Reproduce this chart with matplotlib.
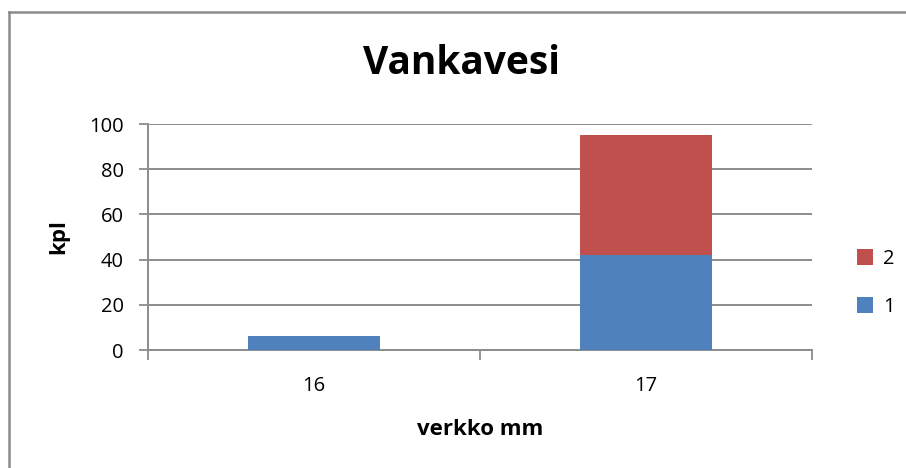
import matplotlib
matplotlib.use("Agg")
import matplotlib.pyplot as plt
from matplotlib.lines import Line2D
import numpy as np

# data
categories = ["16", "17"]
series_1 = [6, 42]
series_2 = [0, 53]
series_names = ["1", "2"]
blue = "#4f81bd"
red = "#c0504d"

plt.rcParams['font.family'] = ['Open Sans', 'DejaVu Sans']

W, H = 906, 468
fig = plt.figure(figsize=(W / 100, H / 100), dpi=100)

# axes box in pixel coords: left 148, right 812, top 124, bottom 350
ax = fig.add_axes([148 / W, 1 - 350 / H, (812 - 148) / W, (350 - 124) / H])

x = np.arange(len(categories))
ax.bar(x, series_1, width=0.4, color=blue, label=series_names[0], zorder=3)
ax.bar(x, series_2, width=0.4, bottom=series_1, color=red,
       label=series_names[1], zorder=3)

ax.set_xlim(-0.5, 1.5)
ax.set_ylim(0, 100)
ax.set_yticks(range(0, 101, 20))
ax.yaxis.grid(True, color="#8c8c8c", linewidth=1.4, zorder=0)

# category ticks sit between groups
ax.set_xticks([-0.5, 0.5, 1.5])
ax.set_xticklabels([])
ax.set_xticks(x, minor=True)
ax.set_xticklabels(categories, minor=True)
ax.tick_params(axis="x", which="minor", length=0, labelsize=14.5, pad=19)
ax.tick_params(axis="x", which="major", length=7, width=1.3, color="#8c8c8c",
               direction="out")
ax.tick_params(axis="y", length=6.5, width=1.3, color="#8c8c8c", labelsize=14.5,
               direction="out", pad=11)

for side in ["top", "right"]:
    ax.spines[side].set_visible(False)
for side in ["left", "bottom"]:
    ax.spines[side].set_color("#8c8c8c")
    ax.spines[side].set_linewidth(1.4)

ax.set_xlabel("verkko mm", fontsize=16, fontweight="bold", labelpad=16)
ax.set_ylabel("kpl", fontsize=16, fontweight="bold", labelpad=14)
fig.text(461 / W, 1 - 64 / H, "Vankavesi", fontsize=28, fontweight="bold",
         ha="center", va="center")

handles, labels = ax.get_legend_handles_labels()
ax.legend(handles[::-1], labels[::-1], loc="center left",
          bbox_to_anchor=(839 / W, 1 - 283 / H), bbox_transform=fig.transFigure,
          frameon=False, fontsize=14.5, handlelength=0.8, handleheight=0.8,
          handletextpad=0.5, labelspacing=1.4)

# grey chart-area border (left and top edges visible)
fig.add_artist(Line2D([8.5 / W, 8.5 / W], [0, 1 - 11.5 / H],
                      transform=fig.transFigure, color="#8c8c8c", linewidth=1.8))
fig.add_artist(Line2D([8.5 / W, 1], [1 - 11.5 / H, 1 - 11.5 / H],
                      transform=fig.transFigure, color="#8c8c8c", linewidth=1.8))

fig.savefig("out.png", dpi=100)
